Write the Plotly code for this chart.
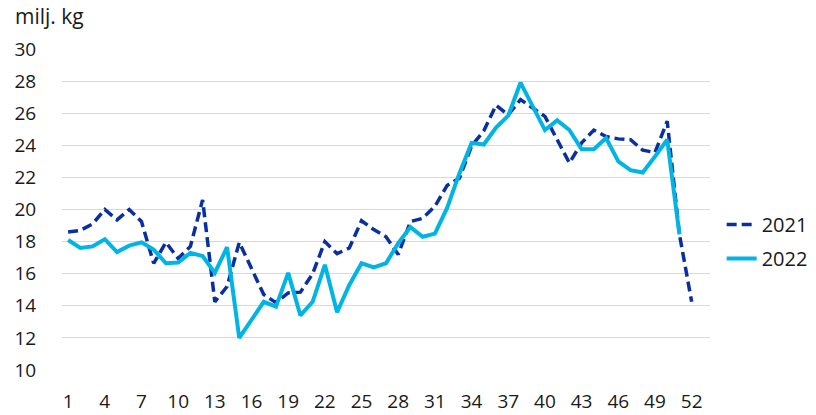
import plotly.graph_objects as go

weeks_2021 = list(range(1, 53))
weeks_2022 = list(range(1, 52))

values_2021 = [18.6, 18.7, 19.1, 20.0, 19.35, 20.0, 19.25, 16.65, 17.95, 16.95,
               17.7, 20.6, 14.25, 15.2, 17.95, 16.3, 14.7, 14.2, 14.8, 14.85,
               16.0, 18.0, 17.25, 17.6, 19.3, 18.75, 18.3, 17.2, 19.25, 19.45,
               20.2, 21.5, 21.95, 23.95, 24.9, 26.5, 25.9, 26.85, 26.3, 25.8,
               24.35, 22.9, 24.15, 24.95, 24.55, 24.4, 24.35, 23.7, 23.55, 25.5,
               18.45, 14.25]

values_2022 = [18.1, 17.6, 17.7, 18.15, 17.35, 17.75, 17.95, 17.5, 16.65, 16.7,
               17.3, 17.1, 16.05, 17.65, 12.0, 13.1, 14.25, 13.95, 16.05, 13.4,
               14.25, 16.55, 13.6, 15.3, 16.65, 16.4, 16.65, 17.9, 18.9, 18.3,
               18.5, 20.1, 22.25, 24.15, 24.05, 25.1, 25.85, 27.9, 26.4, 24.95,
               25.55, 24.95, 23.75, 23.75, 24.45, 23.0, 22.45, 22.3, 23.3, 24.35,
               18.45]

y_ticks = [10, 12, 14, 16, 18, 20, 22, 24, 26, 28, 30]
x_ticks = list(range(1, 53, 3))
unit_label = "milj. kg"

FONT = "Open Sans"
FS = 19
TXT = "#1a1a1a"

fig = go.Figure()
fig.add_trace(go.Scatter(
    x=weeks_2021, y=values_2021, name="2021", mode="lines",
    line=dict(color="#0a2f9e", width=3.5, dash="10px,5px"),
    legendgroup="a",
))
fig.add_trace(go.Scatter(
    x=weeks_2022, y=values_2022, name="2022", mode="lines",
    line=dict(color="#00b4e4", width=4),
    legendgroup="b",
))

fig.update_layout(
    width=816, height=415,
    margin=dict(l=62, r=106, t=49, b=45, autoexpand=False),
    paper_bgcolor="white", plot_bgcolor="white",
    font=dict(family=FONT, size=FS, color=TXT),
    showlegend=True,
    legend=dict(
        x=1.018, y=0.40, xanchor="left", yanchor="middle",
        traceorder="grouped", tracegroupgap=5,
        font=dict(family=FONT, size=20, color=TXT),
        bgcolor="rgba(0,0,0,0)",
    ),
    xaxis=dict(
        range=[0.5, 53.5], tickmode="array", tickvals=x_ticks,
        ticktext=[str(v) for v in x_ticks], automargin=False,
        showgrid=False, zeroline=False, showline=False,
        ticks="outside", ticklen=14, tickcolor="rgba(0,0,0,0)",
        tickfont=dict(family=FONT, size=FS, color=TXT),
    ),
    yaxis=dict(
        range=[10, 30], tickmode="array", tickvals=y_ticks,
        ticktext=[str(v) for v in y_ticks], automargin=False,
        showgrid=True, gridcolor="#d9d9d9", gridwidth=1.3,
        zeroline=False, showline=False,
        ticks="outside", ticklen=21, tickcolor="rgba(0,0,0,0)",
        tickfont=dict(family=FONT, size=FS, color=TXT),
    ),
    annotations=[dict(
        text=unit_label, xref="paper", yref="paper",
        x=-49 / 648, y=1 + (49.3 - 16) / 321, xanchor="left", yanchor="middle",
        showarrow=False, font=dict(family=FONT, size=21, color=TXT),
    )],
)

fig.write_html(
    "out.html",
    config={"displayModeBar": False},
    post_script="document.body.style.margin='0px';document.body.style.overflow='hidden';",
)
